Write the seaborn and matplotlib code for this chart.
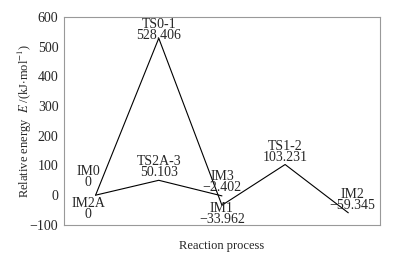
import seaborn as sns
import matplotlib.pyplot as plt
import pandas as pd

# datos de los caminos de reaccion
path1_pos = [1, 2, 3, 4, 5]
path1_energy = [0, 528.406, -33.962, 103.231, -59.345]
path2_pos = [1, 2, 3]
path2_energy = [0, 50.103, -2.402]

labels = ['IM0\n0', 'IM2A\n0', 'TS0-1\n528.406', 'TS2A-3\n50.103',
          'IM3\n\u22122.402', 'IM1\n\u221233.962', 'TS1-2\n103.231', 'IM2\n\u221259.345']
label_x = [0.88, 0.88, 2.0, 2.0, 3.0, 3.0, 4.0, 5.07]
label_y = [0, 0, 528.406, 50.103, -2.402, -33.962, 103.231, -59.345]

sns.set_style('white')
plt.rcParams['font.family'] = ['Liberation Serif', 'DejaVu Serif']
plt.rcParams['mathtext.fontset'] = 'stix'
fs = 10

df1 = pd.DataFrame({'x': path1_pos, 'y': path1_energy})
df2 = pd.DataFrame({'x': path2_pos, 'y': path2_energy})

fig = plt.figure(figsize=(4.05, 2.57), dpi=100)
ax = fig.add_axes([0.158, 0.125, 0.78, 0.809])
sns.lineplot(data=df1, x='x', y='y', color='black', lw=0.8, ax=ax, sort=False)
sns.lineplot(data=df2, x='x', y='y', color='black', lw=0.8, ax=ax, sort=False)

# etiquetas: arriba o abajo del punto
offsets = [20, -5, -13, 5, 7, 12, 3, 2]
vas = ['bottom', 'top', 'bottom', 'bottom', 'bottom', 'top', 'bottom', 'bottom']
for t, x, y, o, va in zip(labels, label_x, label_y, offsets, vas):
    ax.text(x, y + o, t, ha='center', va=va, linespacing=0.8, fontsize=fs)

ax.set_xlim(0.5, 5.5)
ax.set_ylim(-100, 600)
ax.set_yticks(range(-100, 601, 100))
ax.set_yticklabels(['\u2212100'] + [str(v) for v in range(0, 601, 100)], fontsize=fs)
ax.set_xticks([])
ax.set_xlabel('Reaction process', fontsize=9, labelpad=11)
ax.set_ylabel(r'Relative energy  $\mathit{E}$ /(kJ$\cdot$mol$^{-1}$)', fontsize=9, labelpad=-3)
for s in ax.spines.values():
    s.set_color('#999999')
    s.set_linewidth(0.8)
ax.tick_params(axis='y', length=2, width=0.8, color='#999999', pad=2)

plt.savefig('out.png', dpi=100)
